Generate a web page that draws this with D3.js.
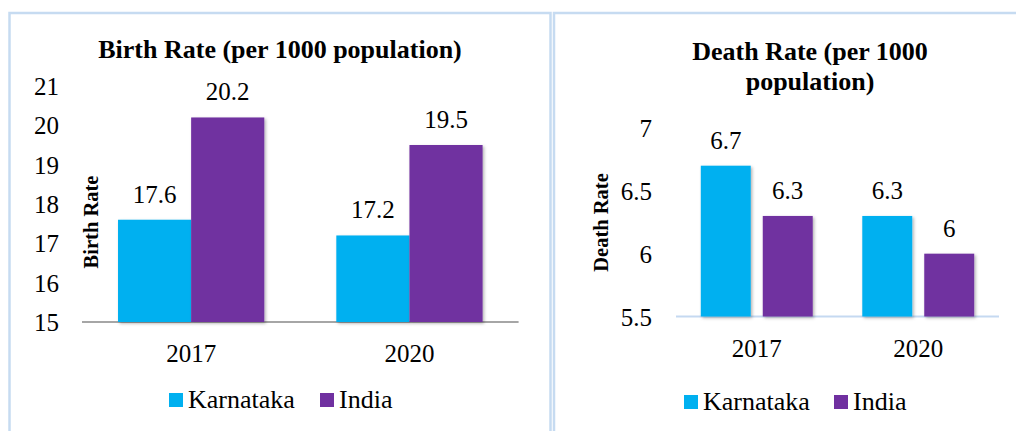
<!DOCTYPE html>
<html>
<head>
<meta charset="utf-8">
<script src="https://cdn.jsdelivr.net/npm/d3@7"></script>
<style>
  html, body { margin: 0; padding: 0; background: #ffffff; }
  svg { display: block; }
  svg text { font-family: "Liberation Serif", "Times New Roman", serif; }
</style>
</head>
<body>
<svg id="chart" width="1016" height="431"></svg>
<script>
// ---- data ----
const years = ["2017", "2020"];
const seriesNames = ["Karnataka", "India"];
const seriesColors = ["#00b0f0", "#7030a0"];
const birthKarnataka = [17.6, 17.2];
const birthIndia = [20.2, 19.5];
const deathKarnataka = [6.7, 6.3];
const deathIndia = [6.3, 6.0];
const birthTicks = [15, 16, 17, 18, 19, 20, 21];
const deathTicks = [5.5, 6, 6.5, 7];
const birthTitle = ["Birth Rate (per 1000 population)"];
const deathTitle = ["Death Rate (per 1000", "population)"];

const FONT = "Liberation Serif, Times New Roman, serif";
const svg = d3.select("#chart");

// drop shadow filter
const defs = svg.append("defs");
const f = defs.append("filter").attr("id", "shadow").attr("x", "-10%").attr("y", "-10%").attr("width", "130%").attr("height", "130%");
f.append("feDropShadow").attr("dx", 1.5).attr("dy", 1.5).attr("stdDeviation", 1.5)
  .attr("flood-color", "#000").attr("flood-opacity", 0.3);

// panel borders
const borderColor = "#c6dbf1";
svg.append("path").attr("d", "M9.5,431 V13 H550.5 V431")
  .attr("fill", "none").attr("stroke", borderColor).attr("stroke-width", 2.5);
svg.append("path").attr("d", "M554,431 V13 H1016")
  .attr("fill", "none").attr("stroke", borderColor).attr("stroke-width", 2.5);

function drawChart(cfg) {
  const g = svg.append("g").attr("font-family", FONT);
  const x0 = d3.scaleBand().domain(years).range(cfg.xRange)
    .paddingInner(cfg.padIn).paddingOuter(cfg.padOut);
  const x1 = d3.scaleBand().domain(seriesNames).range([0, x0.bandwidth()])
    .paddingInner(cfg.subPad).paddingOuter(0);
  const y = d3.scaleLinear().domain(cfg.yDomain).range(cfg.yRange);

  // axis line
  g.append("line")
    .attr("x1", cfg.xRange[0]).attr("x2", cfg.xRange[1])
    .attr("y1", y(cfg.yDomain[0])).attr("y2", y(cfg.yDomain[0]))
    .attr("stroke", cfg.axisColor).attr("stroke-width", 1.8);

  // y tick labels
  const yAxis = d3.axisLeft(y).tickValues(cfg.ticks).tickSize(0).tickPadding(0)
    .tickFormat(d3.format("~g"));
  const ya = g.append("g").attr("transform", `translate(${cfg.tickRight},0)`).call(yAxis)
    .attr("font-family", FONT);
  ya.select(".domain").remove();
  ya.selectAll("text").attr("font-family", FONT).attr("font-size", 25)
    .attr("fill", "#000").attr("dy", "0.34em");

  // x labels
  const xAxis = d3.axisBottom(x0).tickSize(0).tickPadding(0);
  const xa = g.append("g").attr("transform", `translate(0,${cfg.xLabelBase})`).call(xAxis)
    .attr("font-family", FONT);
  xa.select(".domain").remove();
  xa.selectAll("text").attr("font-family", FONT).attr("font-size", 25)
    .attr("fill", "#000").attr("dy", 0);

  // bars
  const data = years.map((yr, i) => ({ year: yr, vals: [
    { name: seriesNames[0], v: cfg.karnataka[i] },
    { name: seriesNames[1], v: cfg.india[i] }
  ]}));
  const groups = g.selectAll(".grp").data(data).enter().append("g")
    .attr("transform", d => `translate(${x0(d.year)},0)`);
  groups.selectAll("rect").data(d => d.vals).enter().append("rect")
    .attr("x", d => x1(d.name)).attr("width", x1.bandwidth())
    .attr("y", d => y(d.v)).attr("height", d => y(cfg.yDomain[0]) - y(d.v))
    .attr("fill", (d, i) => seriesColors[i])
    .attr("filter", "url(#shadow)");
  groups.selectAll("text.val").data(d => d.vals).enter().append("text")
    .attr("class", "val")
    .attr("x", d => x1(d.name) + x1.bandwidth() / 2)
    .attr("y", d => y(d.v) - 17)
    .attr("text-anchor", "middle").attr("font-family", FONT).attr("font-size", 25).attr("fill", "#000")
    .text(d => d3.format("~g")(d.v));

  // title
  cfg.title.forEach((t, i) => {
    g.append("text").attr("x", cfg.titleX).attr("y", cfg.titleY + i * 30)
      .attr("text-anchor", "middle").attr("font-family", FONT).attr("font-weight", "bold").attr("font-size", 26)
      .attr("fill", "#000").text(t);
  });

  // y axis title
  g.append("text")
    .attr("transform", `translate(${cfg.yTitleX},${cfg.yTitleY}) rotate(-90)`)
    .attr("text-anchor", "middle").attr("font-family", FONT).attr("font-weight", "bold").attr("font-size", 20.5)
    .attr("fill", "#000").text(cfg.yTitle);

  // legend
  seriesNames.forEach((n, i) => {
    const lx = cfg.legendX[i];
    g.append("rect").attr("x", lx).attr("y", cfg.legendY).attr("width", 14).attr("height", 14)
      .attr("fill", seriesColors[i]);
    g.append("text").attr("x", lx + 19).attr("y", cfg.legendY + 15)
      .attr("font-family", FONT).attr("font-size", 26).attr("fill", "#000").text(n);
  });
}

drawChart({
  karnataka: birthKarnataka, india: birthIndia,
  yDomain: [15, 21], yRange: [322, 86], ticks: birthTicks,
  xRange: [82, 518.6], padIn: 0.33, padOut: 0.165, subPad: 0,
  axisColor: "#a6a6a6", tickRight: 59, xLabelBase: 362,
  title: birthTitle, titleX: 280, titleY: 58,
  yTitle: "Birth Rate", yTitleX: 98, yTitleY: 222,
  legendX: [169, 320], legendY: 393
});

drawChart({
  karnataka: deathKarnataka, india: deathIndia,
  yDomain: [5.5, 7], yRange: [316.5, 128], ticks: deathTicks,
  xRange: [676, 999], padIn: 0.307, padOut: 0.1535, subPad: 0.194,
  axisColor: "#c5d9f1", tickRight: 652, xLabelBase: 357,
  title: deathTitle, titleX: 810, titleY: 60,
  yTitle: "Death Rate", yTitleX: 608, yTitleY: 222.5,
  legendX: [684, 834], legendY: 395
});
</script>
</body>
</html>
